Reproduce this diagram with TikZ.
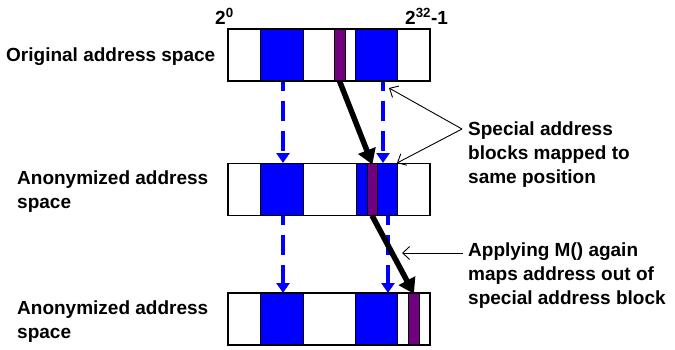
\documentclass[tikz,border=0pt]{standalone}
\usepackage{fontspec}
\setmainfont{Liberation Sans}
\usetikzlibrary{arrows.meta}
\definecolor{blk}{RGB}{0,0,255}
\definecolor{pur}{RGB}{112,0,128}
\begin{document}
\begin{tikzpicture}[x=1pt,y=-1pt,
  bar/.style={draw=black,line width=1.3pt,fill=white,minimum width=202pt,minimum height=52pt,inner sep=0pt,outer sep=0pt},
  bluebk/.style={draw=black,line width=1pt,fill=blk,minimum width=43pt,minimum height=52pt,inner sep=0pt,outer sep=0pt},
  purbk/.style={draw=black,line width=1pt,fill=pur,minimum width=11pt,minimum height=52pt,inner sep=0pt,outer sep=0pt},
  lbl/.style={font=\bfseries\fontsize{19}{24}\selectfont,align=left,inner sep=0pt},
  endlbl/.style={font=\bfseries\fontsize{19}{22}\selectfont,inner sep=0pt},
  dasharrow/.style={draw=blk,line width=3.6pt,dash pattern=on 20pt off 10pt,dash phase=11pt,-{Triangle[length=10pt,width=13pt]}},
  bigarrow/.style={draw=black,line width=5.5pt,-{Triangle[length=15pt,width=18pt]},shorten >=-1pt},
  thinarrow/.style={draw=black,line width=0.9pt,-{Straight Barb[length=7pt,width=13pt]}}]
\useasboundingbox (0,0) rectangle (675,349);
% bars
\node[bar] (bar1) at (329,55) {};
\node[bar] (bar2) at (329,189.5) {};
\node[bar] (bar3) at (329,319) {};
% bar 1 blocks
\node[bluebk] (b1a) at (281.5,55) {};
\node[bluebk,minimum width=42pt] (b1b) at (376,55) {};
\node[purbk] (p1) at (339.5,55) {};
% bar 2 blocks
\node[bluebk] (b2a) at (281.5,189.5) {};
\node[bluebk,minimum width=41pt] (b2b) at (376.5,189.5) {};
\node[purbk,minimum width=10pt] (p2) at (372,189.5) {};
% bar 3 blocks
\node[bluebk] (b3a) at (281.5,319) {};
\node[bluebk,minimum width=42pt] (b3b) at (376,319) {};
\node[purbk] (p3) at (413.5,319) {};
% redraw bar outlines on top
\draw[line width=1.3pt] (bar1.north west) rectangle (bar1.south east);
\draw[line width=1.3pt] (bar2.north west) rectangle (bar2.south east);
\draw[line width=1.3pt] (bar3.north west) rectangle (bar3.south east);
% end labels
\node[endlbl,anchor=base west] (lo) at (215,24) {2\textsuperscript{0}};
\node[endlbl,anchor=base west] (hi) at (405,24) {2\textsuperscript{32}-1};
% left labels
\node[lbl,anchor=north west] (t1) at (6,48) {Original address space};
\node[lbl,anchor=north west] (t2) at (17,171) {Anonymized address\\space};
\node[lbl,anchor=north west] (t3) at (17,301) {Anonymized address\\space};
% right labels
\node[lbl,anchor=north west] (s1) at (468,122) {Special address\\blocks mapped to\\same position};
\node[lbl,anchor=north west] (s2) at (468,243) {Applying M() again\\maps address out of\\special address block};
% coordinates for dashed arrows
\coordinate (d1s) at (283,81.5);
\coordinate (d1e) at (283,163);
\coordinate (d2s) at (383,81.5);
\coordinate (d2e) at (383,163);
\coordinate (d3s) at (283,216);
\coordinate (d3e) at (283,293);
\coordinate (d4s) at (388,216);
\coordinate (d4e) at (388,293);
\draw[dasharrow] (d1s) -- (d1e);
\draw[dasharrow] (d2s) -- (d2e);
\draw[dasharrow] (d3s) -- (d3e);
\draw[dasharrow] (d4s) -- (d4e);
% black mapping arrows
\draw[bigarrow] (p1.south) -- (p2.north);
\draw[bigarrow] (p2.south) -- (p3.north);
% thin pointer arrows
\coordinate (sp) at (462,129);
\coordinate (sa) at (389,88);
\coordinate (sb) at (397,163);
\draw[thinarrow] (sp) -- (sa);
\draw[thinarrow] (sp) -- (sb);
\coordinate (ap) at (463,253);
\coordinate (aa) at (402,253);
\draw[thinarrow] (ap) -- (aa);
\end{tikzpicture}
\end{document}
